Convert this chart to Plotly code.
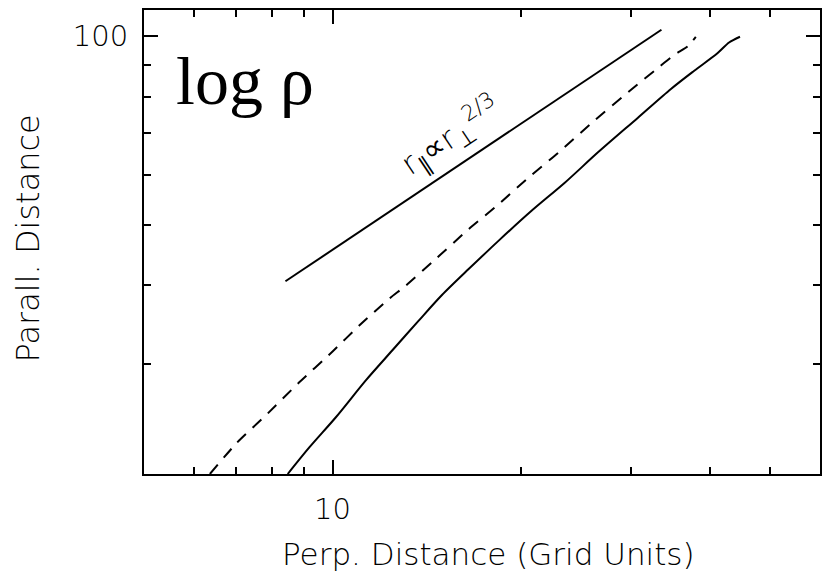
import numpy as np
import plotly.graph_objects as go

# ---- data ----
ref_x = [8.41, 33.5]
ref_y = [40.6, 102.3]

solid_x = [8.48, 9.18, 10.13, 11.30, 12.45, 13.68, 14.95, 16.49, 18.40, 20.78,
           23.48, 26.53, 30.70, 34.69, 37.79, 41.15, 42.95, 44.71]
solid_y = [20.0, 22.05, 24.66, 28.21, 31.48, 35.0, 38.6, 42.46, 47.10, 52.6,
           58.31, 65.2, 74.0, 82.3, 88.0, 93.83, 97.6, 99.7]

dash_x = [6.37, 7.02, 7.88, 8.80, 10.0, 11.03, 12.30, 13.08, 14.60, 16.49,
          18.40, 20.53, 22.92, 25.74, 29.96, 33.04, 35.12, 36.86, 38.01]
dash_y = [20.0, 22.38, 24.98, 27.87, 31.37, 34.50, 38.05, 39.94, 44.05, 49.16,
          53.86, 59.38, 65.09, 72.19, 82.07, 88.83, 93.28, 96.16, 99.7]

x_major = [10]
x_major_text = ["10"]
x_minor = [6, 7, 8, 9, 20, 30, 40, 50]
y_major = [100]
y_major_text = ["100"]
y_minor = [30, 40, 50, 60, 70, 80, 90]
x_range = [5, 60]
y_range = [20, 110]

FONT = "DejaVu Sans"
W = 200

fig = go.Figure()
fig.add_trace(go.Scatter(x=ref_x, y=ref_y, mode="lines",
                         line=dict(color="black", width=2), showlegend=False))
fig.add_trace(go.Scatter(x=dash_x, y=dash_y, mode="lines",
                         line=dict(color="black", width=2, dash="12px,9px",
                                   shape="spline", smoothing=0.6), showlegend=False))
fig.add_trace(go.Scatter(x=solid_x, y=solid_y, mode="lines",
                         line=dict(color="black", width=2, shape="spline", smoothing=0.8),
                         showlegend=False))

axis_common = dict(
    type="log", showgrid=False, zeroline=False, showline=True,
    linecolor="black", linewidth=2, mirror="ticks",
    ticks="inside", ticklen=14, tickwidth=1.5, tickcolor="black",
    tickfont=dict(family=FONT, size=29, color="black", weight=W),
)

fig.update_xaxes(**axis_common, range=[np.log10(x_range[0]), np.log10(x_range[1])],
                 tickmode="array", tickvals=x_major, ticktext=x_major_text,
                 ticklabelstandoff=8,
                 minor=dict(tickmode="array", tickvals=x_minor, ticks="inside",
                            ticklen=7, tickwidth=1.5, tickcolor="black"))
fig.update_yaxes(**axis_common, range=[np.log10(y_range[0]), np.log10(y_range[1])],
                 tickmode="array", tickvals=y_major, ticktext=y_major_text,
                 ticklabelstandoff=8,
                 minor=dict(tickmode="array", tickvals=y_minor, ticks="inside",
                            ticklen=7, tickwidth=1.5, tickcolor="black"))

fig.update_layout(
    width=830, height=571,
    margin=dict(l=144, r=8, t=9, b=97),
    paper_bgcolor="white", plot_bgcolor="white",
    font=dict(family=FONT, color="black"),
    annotations=[
        dict(text="Perp. Distance (Grid Units)", xref="paper", yref="paper",
             x=0.5103, y=-0.172, xanchor="center", yanchor="middle", showarrow=False,
             font=dict(family=FONT, size=31, color="black", weight=W)),
        dict(text="Parall. Distance", xref="paper", yref="paper",
             x=-0.172, y=0.507, xanchor="center", yanchor="middle", showarrow=False,
             textangle=-90,
             font=dict(family=FONT, size=32, color="black", weight=W)),
        dict(text="log ρ", xref="paper", yref="paper",
             x=0.149, y=0.846, xanchor="center", yanchor="middle", showarrow=False,
             font=dict(family="Liberation Serif", size=68, color="black")),
        dict(text="r<sub>∥</sub>∝r<sub>⊥</sub><sup>2/3</sup>", xref="x", yref="y",
             x=1.1886, y=1.8399, xanchor="center", yanchor="middle", showarrow=False,
             textangle=-33.7,
             font=dict(family=FONT, size=31, color="black", weight=W)),
    ],
)

fig.write_html("out.html")
